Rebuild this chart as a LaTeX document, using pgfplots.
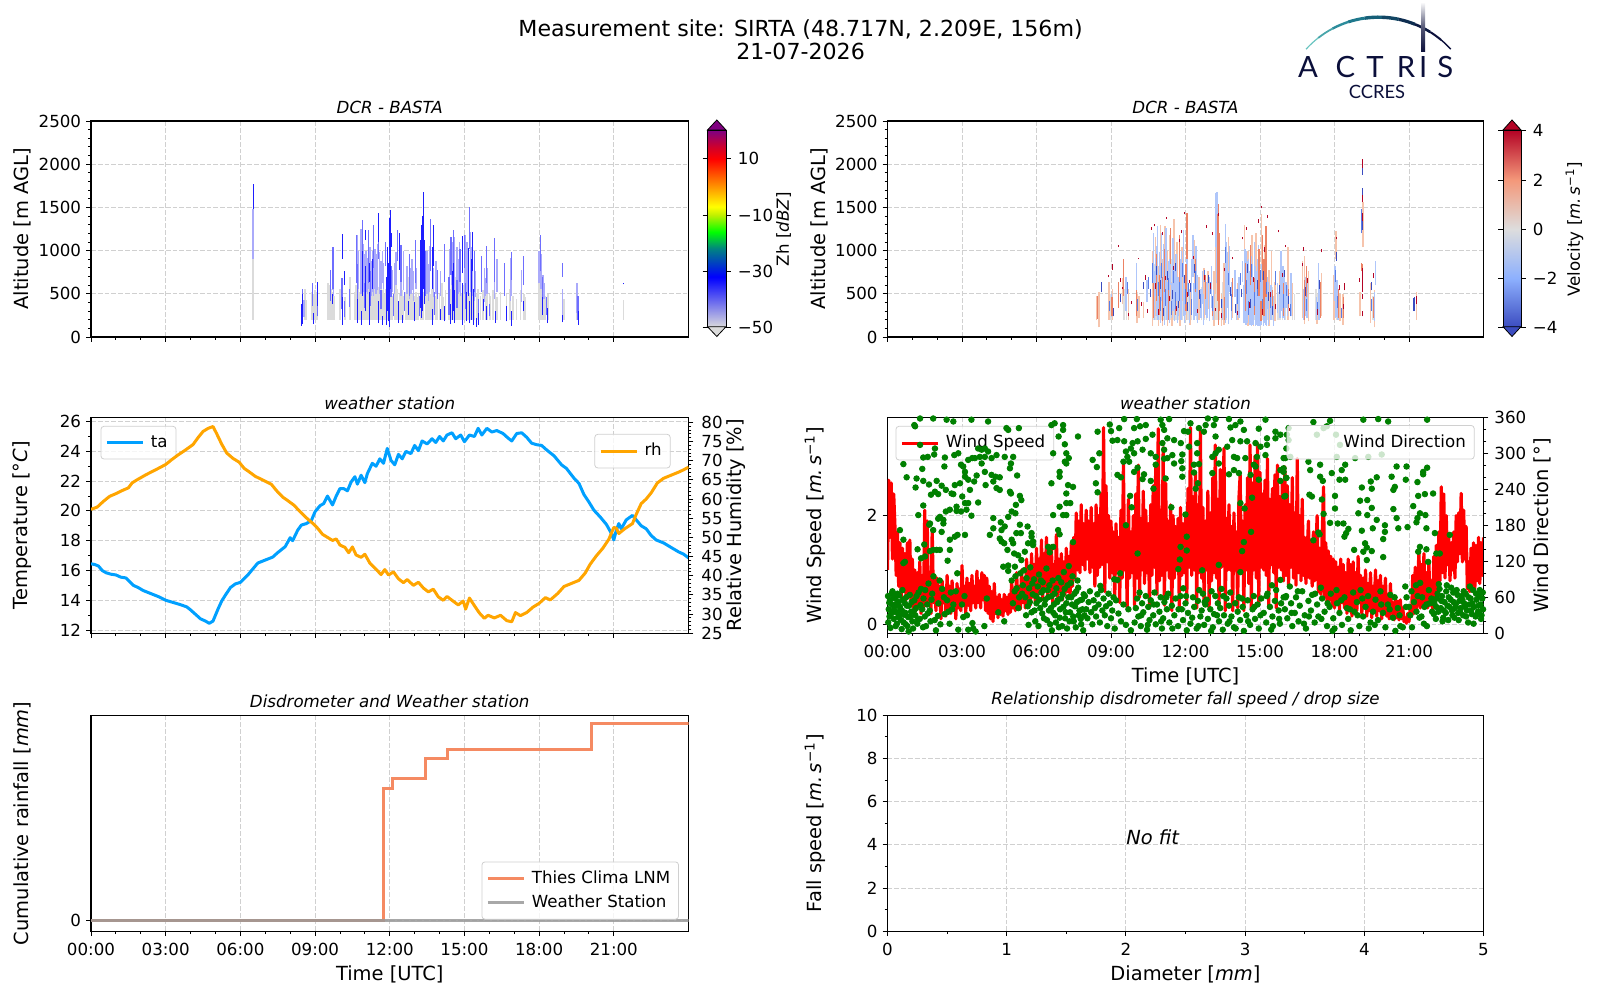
\documentclass[border=0pt]{standalone}
\usepackage{fontspec}
\setmainfont{DejaVu Sans}
\newfontfamily\logofont{Lato}
\usepackage{pgfplots}
\usepackage{pgfplotstable}
\pgfplotsset{compat=1.18}
\usetikzlibrary{shadings}

\newcommand{\ftick}{\fontsize{8.36}{10}\selectfont}
\newcommand{\flabel}{\fontsize{9.76}{11.5}\selectfont}
\newcommand{\ftitle}{\fontsize{8.36}{10}\selectfont\itshape}

\definecolor{gridc}{RGB}{208,208,208}
\definecolor{tacol}{RGB}{0,160,255}
\definecolor{rhcol}{RGB}{255,165,0}
\definecolor{thies}{RGB}{245,138,98}
\definecolor{wscol}{RGB}{153,153,153}
\definecolor{dirc}{RGB}{0,128,0}
\definecolor{navy}{RGB}{11,15,58}
\definecolor{zpale}{RGB}{170,170,250}
\definecolor{zmid}{RGB}{110,110,255}
\definecolor{zstrong}{RGB}{30,30,255}
\definecolor{zpurple}{RGB}{128,0,128}
\definecolor{vlorc}{RGB}{246,196,172}
\definecolor{vlbluec}{RGB}{175,198,250}
\definecolor{vorc}{RGB}{236,130,100}
\definecolor{vbluec}{RGB}{90,125,230}
\definecolor{vdarkc}{RGB}{59,76,192}
\definecolor{vredc}{RGB}{180,4,38}

% radar stripes, time (h), bottom and top altitude (m)
\pgfplotstableread[row sep=\\]{t lo hi\\
6.51 200 900\\ 8.60 200 560\\ 8.65 200 430\\ 8.85 200 520\\ 8.90 200 530\\ 8.95 200 500\\ 9.00 200 540\\ 9.05 200 520\\ 9.10 200 480\\
9.52 200 620\\ 9.58 200 600\\ 9.64 200 560\\ 9.70 200 520\\ 9.76 200 480\\ 10.00 200 560\\ 10.20 200 460\\ 10.40 200 700\\
10.60 200 520\\ 10.65 200 600\\ 10.70 200 480\\ 10.75 200 640\\ 10.80 200 520\\ 10.85 200 700\\ 10.90 200 560\\ 10.95 200 620\\ 11.00 200 500\\ 11.05 200 680\\
11.10 200 540\\ 11.15 200 600\\ 11.20 200 720\\ 11.25 200 500\\ 11.30 200 640\\ 11.35 200 560\\ 11.40 200 700\\ 11.45 200 520\\ 11.50 200 620\\ 11.55 200 580\\
11.60 200 500\\ 11.65 200 660\\ 11.70 200 540\\ 11.75 200 600\\ 11.80 200 500\\ 11.85 200 560\\ 11.90 200 620\\ 11.95 200 500\\ 12.00 200 540\\ 12.05 200 600\\
12.10 200 480\\ 12.20 200 520\\ 12.25 200 620\\ 12.30 200 560\\ 12.40 200 500\\ 12.45 200 600\\ 12.50 200 540\\ 12.55 200 480\\ 12.65 200 520\\ 12.70 200 600\\
12.75 200 700\\ 12.80 200 620\\ 12.85 200 560\\ 12.90 200 500\\ 12.95 200 540\\ 13.00 200 480\\ 13.05 200 520\\ 13.10 200 460\\ 13.15 200 500\\ 13.25 200 560\\
13.30 200 600\\ 13.35 200 520\\ 13.45 200 700\\ 13.50 200 640\\ 13.55 200 580\\ 13.60 200 620\\ 13.65 200 500\\ 13.70 200 560\\ 13.75 200 520\\ 13.85 200 480\\
13.90 200 560\\ 14.00 200 500\\ 14.10 200 620\\ 14.15 200 460\\ 14.25 200 540\\ 14.35 200 600\\ 14.40 200 680\\ 14.45 200 560\\ 14.50 200 720\\ 14.55 200 640\\
14.60 200 580\\ 14.65 200 700\\ 14.70 200 520\\ 14.75 200 620\\ 14.80 200 560\\ 14.85 200 660\\ 14.90 200 500\\ 14.95 200 600\\ 15.00 200 540\\ 15.05 200 580\\
15.10 200 520\\ 15.15 200 640\\ 15.20 200 500\\ 15.25 200 560\\ 15.30 200 600\\ 15.35 200 520\\ 15.40 200 480\\ 15.50 200 500\\ 15.55 200 560\\ 15.65 200 480\\
15.75 200 540\\ 15.85 200 520\\ 15.90 200 600\\ 16.00 200 500\\ 16.05 200 480\\ 16.15 200 540\\ 16.25 200 500\\ 16.30 200 460\\ 16.45 200 520\\ 16.70 200 500\\
16.80 200 560\\ 16.85 200 520\\ 16.95 200 480\\ 17.10 200 440\\ 17.25 200 540\\ 17.40 200 500\\ 17.45 200 460\\ 18.00 200 620\\ 18.05 200 580\\ 18.10 200 650\\
18.15 200 560\\ 18.20 200 520\\ 18.25 200 480\\ 18.35 200 500\\ 19.00 200 440\\ 19.50 200 620\\ 19.55 200 560\\ 21.38 200 430\\
}\zhgrey
\pgfplotstableread[row sep=\\]{t lo hi\\
6.51 900 1480\\ 8.55 230 430\\ 9.70 540 1000\\ 9.75 480 780\\ 10.70 480 1180\\ 10.75 560 1000\\ 10.85 500 1250\\ 10.95 520 1080\\ 11.00 480 960\\ 11.05 520 1000\\
11.10 500 920\\ 11.15 560 1000\\ 11.20 500 1040\\ 11.25 480 880\\ 11.30 520 1000\\ 11.35 480 1120\\ 11.40 560 1020\\ 11.45 500 960\\ 11.50 540 1080\\ 11.60 500 980\\
11.65 560 880\\ 11.70 620 1000\\ 11.75 560 860\\ 12.10 520 780\\ 12.20 500 860\\ 12.25 600 980\\ 12.45 480 860\\ 12.55 540 1000\\ 12.70 500 820\\ 12.80 440 900\\
12.85 500 800\\ 12.90 540 900\\ 12.95 420 760\\ 13.05 560 800\\ 13.50 500 1000\\ 13.55 420 840\\ 13.60 520 1050\\ 13.75 460 800\\ 13.85 500 880\\ 14.05 480 760\\
14.40 480 1020\\ 14.50 600 1100\\ 14.55 500 1000\\ 14.60 480 1160\\ 14.70 560 1040\\ 14.75 500 900\\ 14.80 520 1100\\ 14.85 480 1000\\ 15.00 500 900\\ 15.05 480 1180\\
15.10 500 1100\\ 15.25 520 1220\\ 15.30 480 1040\\ 15.40 420 860\\ 15.45 460 760\\ 15.80 400 800\\ 15.85 480 680\\ 15.90 500 800\\ 16.20 440 960\\ 16.30 520 900\\
16.85 420 920\\ 16.90 480 820\\ 17.30 400 780\\ 18.00 620 1000\\ 18.08 560 960\\ 18.15 500 720\\ 18.20 440 620\\ 18.30 260 420\\ 18.95 260 560\\ 19.52 280 620\\
}\zhpale
\pgfplotstableread[row sep=\\]{t lo hi\\
8.50 300 560\\ 8.90 360 620\\ 9.10 240 480\\ 9.62 420 780\\ 9.72 560 1040\\ 10.08 320 680\\ 10.18 230 420\\ 10.40 350 560\\ 10.65 620 1180\\ 10.72 380 840\\ 10.90 700 1350\\
10.98 340 620\\ 11.15 620 1240\\ 11.22 360 760\\ 11.35 800 1300\\ 11.55 900 1340\\ 11.65 320 540\\ 11.82 820 1100\\ 12.05 460 820\\ 12.15 240 500\\ 12.30 880 1240\\ 12.45 640 1060\\
12.60 300 520\\ 12.80 480 960\\ 13.02 620 1120\\ 13.18 240 480\\ 13.42 480 1000\\ 13.62 760 1360\\ 13.78 260 520\\ 13.92 440 780\\ 14.20 640 1080\\ 14.38 260 700\\ 14.46 720 1160\\
14.55 860 1240\\ 14.70 340 660\\ 14.82 640 1020\\ 15.00 800 1180\\ 15.05 320 620\\ 15.22 1020 1500\\ 15.40 520 1000\\ 15.55 240 440\\ 15.70 520 940\\ 15.88 620 1050\\ 16.00 240 380\\
16.22 640 1140\\ 16.62 480 860\\ 16.90 660 980\\ 17.36 600 940\\ 18.05 760 1180\\ 18.12 420 700\\ 18.28 260 460\\ 18.95 700 860\\ 19.56 200 480\\
}\zhmid
\pgfplotstableread[row sep=\\]{t lo hi\\
6.51 1480 1770\\ 8.46 130 380\\ 8.50 150 500\\ 8.92 150 280\\ 9.10 360 640\\ 9.68 380 500\\ 10.08 140 460\\ 10.09 900 1190\\ 10.20 600 760\\ 10.70 160 440\\ 10.88 140 300\\
10.92 480 1000\\ 11.02 300 820\\ 11.04 1120 1240\\ 11.18 140 520\\ 11.20 640 860\\ 11.30 560 900\\ 11.55 160 420\\ 11.56 1100 1440\\ 11.70 140 240\\ 11.86 140 700\\ 11.90 300 1040\\
11.94 180 860\\ 11.98 120 1380\\ 12.02 560 1470\\ 12.06 1040 1200\\ 12.35 160 420\\ 12.40 780 1200\\ 12.50 160 260\\ 12.75 260 420\\ 13.00 180 400\\ 13.24 340 1120\\ 13.28 220 1300\\
13.32 300 1400\\ 13.36 560 1680\\ 13.40 380 1120\\ 13.70 140 320\\ 13.72 560 1040\\ 13.76 820 1300\\ 14.04 200 320\\ 14.20 180 360\\ 14.44 150 380\\ 14.50 200 760\\ 14.54 300 860\\
14.60 160 540\\ 14.90 140 620\\ 14.92 740 1170\\ 15.10 180 520\\ 15.15 480 1030\\ 15.20 160 420\\ 15.28 200 900\\ 15.32 760 1220\\ 15.36 140 560\\ 15.50 120 220\\ 15.58 140 280\\
15.75 300 440\\ 15.90 200 360\\ 16.24 160 300\\ 16.67 180 360\\ 16.88 130 300\\ 17.37 300 420\\ 18.12 260 460\\ 18.32 160 340\\ 18.95 170 260\\ 19.56 140 300\\ 21.38 610 630\\
}\zhstrong
\pgfplotstableread[row sep=\\]{t lo hi\\
8.50 200 520\\ 8.90 200 540\\ 8.95 200 580\\ 9.00 200 500\\ 9.50 200 480\\ 9.55 200 560\\ 9.62 200 520\\ 10.05 200 520\\ 10.70 200 700\\ 10.75 200 840\\ 10.80 200 640\\ 10.85 200 900\\ 10.92 200 620\\
10.98 200 760\\ 11.05 200 680\\ 11.12 200 820\\ 11.20 200 640\\ 11.28 200 780\\ 11.35 200 680\\ 11.42 200 900\\ 11.50 200 640\\ 11.58 200 840\\ 11.65 200 700\\ 11.72 200 620\\ 11.80 200 820\\
11.88 200 700\\ 11.95 200 640\\ 12.02 200 780\\ 12.10 200 620\\ 12.18 200 540\\ 12.25 200 680\\ 12.35 200 560\\ 12.45 200 620\\ 12.55 200 500\\ 12.65 200 580\\ 12.75 200 500\\ 12.85 200 560\\
13.10 200 460\\ 13.20 200 560\\ 13.25 200 700\\ 13.30 200 580\\ 13.38 200 500\\ 13.50 200 640\\ 13.58 200 700\\ 13.65 200 600\\ 13.72 200 500\\ 13.85 200 480\\ 14.10 200 520\\ 14.35 200 560\\
14.40 200 760\\ 14.46 200 620\\ 14.52 200 860\\ 14.58 200 720\\ 14.65 200 900\\ 14.72 200 640\\ 14.80 200 780\\ 14.86 200 620\\ 14.92 200 720\\ 14.98 200 560\\ 15.05 200 660\\ 15.12 200 540\\
15.18 200 640\\ 15.25 200 700\\ 15.32 200 600\\ 15.40 200 520\\ 15.48 200 580\\ 15.55 200 480\\ 15.72 200 520\\ 15.80 200 560\\ 15.90 200 480\\ 16.00 200 520\\ 16.30 200 560\\ 16.38 200 500\\
16.75 200 500\\ 17.25 200 560\\ 17.30 200 500\\ 18.00 200 460\\ 18.10 200 560\\ 18.18 200 480\\ 18.25 200 420\\ 19.45 200 420\\ 19.55 200 480\\ 19.60 200 400\\
}\vgrey
\pgfplotstableread[row sep=\\]{t lo hi\\
9.02 230 500\\ 9.60 300 700\\ 10.03 520 860\\ 10.45 400 660\\ 10.72 560 1200\\ 10.80 480 920\\ 10.88 340 1280\\ 10.96 260 980\\ 11.04 420 1200\\ 11.12 320 1080\\ 11.22 540 1260\\ 11.32 240 880\\
11.40 600 1020\\ 11.50 300 1140\\ 11.62 420 960\\ 11.72 240 700\\ 11.85 500 1000\\ 11.92 240 1240\\ 12.00 260 760\\ 12.08 520 1340\\ 12.25 380 900\\ 12.30 700 1180\\ 12.42 240 1050\\
12.68 380 760\\ 12.80 260 660\\ 13.05 340 820\\ 13.22 1040 1670\\ 13.26 620 1680\\ 13.34 240 540\\ 13.50 200 440\\ 13.62 620 1310\\ 13.68 340 980\\ 13.78 520 1050\\ 14.00 460 780\\ 14.30 640 880\\
14.40 280 1020\\ 14.46 200 720\\ 14.54 380 900\\ 14.62 140 1000\\ 14.70 220 840\\ 14.78 520 1100\\ 14.85 140 760\\ 14.94 300 1060\\ 15.02 140 620\\ 15.10 400 980\\ 15.22 140 540\\ 15.30 320 700\\
15.48 320 540\\ 15.70 280 620\\ 15.85 300 1000\\ 15.92 220 820\\ 16.05 340 640\\ 16.25 240 740\\ 16.90 220 640\\ 17.28 200 460\\ 17.36 240 860\\ 18.02 420 820\\ 18.10 230 660\\ 19.60 180 520\\ 19.65 600 880\\
10.74 200 760\\ 10.84 240 1050\\ 10.90 200 620\\ 11.00 160 820\\ 11.08 220 700\\ 11.16 140 960\\ 11.26 200 640\\ 11.36 160 900\\ 11.44 220 620\\ 11.56 180 820\\ 11.68 160 700\\ 11.82 200 900\\ 11.96 160 680\\ 12.04 300 1100\\ 12.16 160 540\\ 12.34 200 620\\ 12.48 160 720\\ 12.62 220 560\\ 12.72 140 500\\ 12.86 220 640\\ 12.96 180 700\\ 13.12 200 540\\ 13.60 160 880\\ 13.66 220 1100\\ 13.74 150 760\\ 13.84 200 640\\ 14.06 200 560\\ 14.16 220 700\\ 14.36 160 600\\ 14.44 140 1000\\ 14.50 160 880\\ 14.58 140 760\\ 14.66 130 940\\ 14.72 140 640\\ 14.82 130 820\\ 14.88 140 680\\ 14.92 130 900\\ 15.00 130 720\\ 15.06 140 840\\ 15.14 130 620\\ 15.18 160 760\\ 15.26 130 560\\ 15.34 140 640\\ 15.44 200 600\\ 15.54 130 480\\ 15.80 220 560\\ 15.98 200 760\\ 16.10 240 600\\ 16.74 200 560\\ 16.82 240 700\\ 17.38 200 620\\ 18.04 220 600\\ 18.14 200 520\\
}\vlblue
\pgfplotstableread[row sep=\\]{t lo hi\\
8.95 300 420\\ 9.65 500 640\\ 10.08 300 440\\ 10.50 560 700\\ 10.66 620 860\\ 10.90 480 640\\ 11.00 300 460\\ 11.05 680 860\\ 11.18 360 560\\ 11.30 540 680\\ 11.44 260 420\\ 11.52 620 760\\ 11.60 320 520\\
11.76 420 640\\ 11.88 700 860\\ 12.00 380 560\\ 12.12 480 620\\ 12.25 260 440\\ 12.42 560 760\\ 12.60 340 500\\ 12.78 640 780\\ 13.00 500 640\\ 13.10 300 480\\ 13.62 860 1040\\ 13.72 600 740\\ 13.86 300 500\\
14.08 380 560\\ 14.20 600 740\\ 14.45 500 660\\ 14.55 260 420\\ 14.66 700 840\\ 14.76 360 520\\ 14.90 480 640\\ 15.00 640 780\\ 15.12 280 440\\ 15.28 500 640\\ 15.42 340 480\\ 15.62 600 760\\ 15.95 340 500\\
16.08 480 600\\ 16.22 240 380\\ 16.86 300 440\\ 17.32 260 400\\ 18.05 640 780\\ 18.12 340 480\\ 18.30 220 340\\ 19.50 300 440\\ 19.10 1200 1480\\
}\vblue
\pgfplotstableread[row sep=\\]{t lo hi\\
8.62 520 640\\ 9.10 240 340\\ 9.40 400 500\\ 10.32 560 640\\ 10.60 460 560\\ 10.84 720 820\\ 10.98 560 660\\ 11.10 240 340\\ 11.26 660 760\\ 11.46 440 540\\ 11.58 760 860\\ 11.70 340 420\\ 11.95 620 720\\
12.06 300 400\\ 12.20 520 620\\ 12.38 740 840\\ 12.55 440 540\\ 12.92 620 720\\ 13.46 340 440\\ 13.80 480 580\\ 14.02 280 380\\ 14.24 460 560\\ 14.48 740 840\\ 14.60 340 440\\ 14.88 560 660\\ 15.16 660 760\\
15.34 420 520\\ 15.52 260 360\\ 15.78 500 600\\ 16.00 700 780\\ 16.15 380 480\\ 16.84 480 580\\ 17.40 560 660\\ 18.08 880 980\\ 19.14 1880 1960\\ 19.14 1640 1720\\ 19.14 1240 1340\\ 19.50 540 640\\ 21.20 300 450\\ 21.24 300 460\\
}\vdark
\pgfplotstableread[row sep=\\]{t lo hi\\
8.42 200 480\\ 8.52 110 520\\ 8.92 200 640\\ 9.06 200 560\\ 9.46 380 680\\ 9.70 200 560\\ 10.05 160 500\\ 10.12 220 480\\ 10.30 220 400\\ 10.68 130 1000\\ 10.78 240 1160\\ 10.92 130 820\\ 10.99 320 1300\\
11.08 130 900\\ 11.18 640 1280\\ 11.28 130 1000\\ 11.38 420 1180\\ 11.46 130 640\\ 11.54 760 1360\\ 11.66 300 1100\\ 11.78 130 820\\ 11.86 420 1040\\ 12.05 200 1300\\ 12.18 140 560\\ 12.36 500 1120\\ 12.54 200 700\\
12.74 220 800\\ 12.90 320 760\\ 13.14 130 760\\ 13.20 500 1320\\ 13.44 130 500\\ 13.55 140 860\\ 13.72 240 1160\\ 13.90 220 560\\ 14.12 200 620\\ 14.38 260 1300\\ 14.52 130 1000\\ 14.68 300 1180\\ 14.74 130 620\\
14.84 500 1200\\ 14.98 130 880\\ 15.05 620 1420\\ 15.20 200 1060\\ 15.36 130 780\\ 15.46 420 1000\\ 15.60 180 640\\ 15.78 240 760\\ 16.12 200 1040\\ 16.28 240 620\\ 16.72 220 880\\ 16.78 150 940\\ 16.95 180 760\\
17.30 150 360\\ 17.48 240 740\\ 17.98 200 720\\ 18.06 900 1230\\ 18.22 180 500\\ 18.34 140 500\\ 19.02 240 520\\ 19.14 1040 1560\\ 19.46 160 620\\ 19.62 110 540\\ 21.30 200 520\\
}\vlor
\pgfplotstableread[row sep=\\]{t lo hi\\
8.46 210 480\\ 9.04 240 460\\ 9.30 340 640\\ 9.50 480 900\\ 10.04 240 540\\ 10.72 220 620\\ 10.84 420 960\\ 10.94 260 720\\ 11.06 180 700\\ 11.14 520 1020\\ 11.30 200 620\\ 11.38 840 1260\\ 11.60 260 520\\
11.76 640 1180\\ 12.02 300 840\\ 12.06 900 1430\\ 12.40 520 900\\ 12.80 440 720\\ 13.08 240 460\\ 13.30 420 1420\\ 13.32 140 1540\\ 13.36 300 1200\\ 13.58 200 460\\ 13.88 460 680\\ 14.42 300 860\\ 14.60 600 1060\\
14.78 260 680\\ 14.96 480 1020\\ 15.04 180 420\\ 15.10 660 1180\\ 15.16 240 900\\ 15.24 460 1280\\ 15.52 360 540\\ 15.94 240 620\\ 16.14 340 560\\ 16.80 200 660\\ 16.86 460 820\\ 17.42 220 640\\ 18.16 220 560\\ 18.36 220 460\\
19.14 560 840\\ 19.58 220 460\\ 19.10 760 860\\
}\vor
\pgfplotstableread[row sep=\\]{t lo hi\\
8.88 690 720\\ 9.04 780 840\\ 9.32 1040 1060\\ 9.40 640 680\\ 9.48 560 580\\ 9.72 240 280\\ 9.84 380 420\\ 10.10 900 920\\ 10.24 360 400\\ 10.40 660 720\\ 10.46 280 320\\ 10.62 1240 1270\\ 10.74 1280 1310\\ 10.80 560 620\\
10.92 260 320\\ 11.06 1180 1210\\ 11.18 660 710\\ 11.24 1370 1390\\ 11.36 420 480\\ 11.50 780 820\\ 11.64 300 360\\ 11.74 1100 1130\\ 11.82 1200 1240\\ 11.96 1420 1450\\ 12.06 460 520\\ 12.18 620 660\\ 12.32 900 940\\ 12.50 280 320\\
12.76 660 720\\ 12.84 1260 1300\\ 13.02 560 620\\ 13.10 1180 1210\\ 13.22 300 340\\ 13.34 1400 1440\\ 13.46 220 280\\ 13.58 760 800\\ 13.90 900 930\\ 14.10 260 300\\ 14.30 1130 1160\\ 14.44 1240 1270\\ 14.58 340 400\\ 14.72 640 700\\
14.92 1320 1360\\ 15.04 1490 1520\\ 15.12 260 320\\ 15.20 980 1040\\ 15.30 1380 1410\\ 15.44 460 520\\ 15.62 320 380\\ 15.74 1210 1240\\ 15.90 700 740\\ 16.04 1040 1070\\ 16.20 300 340\\ 16.70 820 860\\ 16.76 1000 1040\\ 16.92 620 680\\
17.32 260 320\\ 17.46 980 1020\\ 18.10 1130 1160\\ 18.22 540 600\\ 18.38 320 380\\ 18.42 540 620\\ 19.00 640 680\\ 19.14 240 300\\ 19.14 440 500\\ 19.14 520 800\\ 19.14 1560 1640\\ 19.14 1340 1440\\ 19.14 1960 2060\\ 19.58 680 740\\ 21.30 380 480\\
}\vred

\pgfplotstableread[row sep=\\]{t v\\
0 16.45\\ .15 16.4\\ .3 16.3\\ .45 16\\ .6 15.85\\ .8 15.75\\ 1 15.7\\ 1.2 15.55\\ 1.4 15.5\\ 1.55 15.25\\ 1.7 15\\ 1.9 14.85\\ 2.1 14.65\\ 2.4 14.45\\ 2.7 14.25\\ 3 14\\ 3.3 13.85\\ 3.6 13.7\\ 3.85 13.55\\ 4 13.35\\ 4.2 13.05\\ 4.4 12.75\\ 4.6 12.6\\ 4.75 12.45\\ 4.9 12.6\\ 5 13\\ 5.1 13.4\\ 5.25 13.95\\ 5.4 14.35\\ 5.6 14.85\\ 5.8 15.1\\ 6 15.2\\ 6.3 15.7\\ 6.5 16.1\\ 6.7 16.5\\ 7 16.7\\ 7.3 16.9\\ 7.5 17.2\\ 7.8 17.6\\ 8 18.2\\ 8.1 18\\ 8.3 18.7\\ 8.45 19.05\\ 8.65 19.15\\ 8.85 19.35\\ 9 19.95\\ 9.2 20.35\\ 9.35 20.5\\ 9.5 21\\ 9.7 20.4\\ 9.85 21\\ 10 21.5\\ 10.15 21.5\\ 10.3 21.35\\ 10.45 21.95\\ 10.6 22.3\\ 10.7 21.8\\ 10.85 22.4\\ 11 21.9\\ 11.1 22.5\\ 11.3 23.2\\ 11.45 23\\ 11.6 23.5\\ 11.75 23.2\\ 11.9 24.2\\ 12.05 23.4\\ 12.2 23.1\\ 12.35 23.8\\ 12.5 23.5\\ 12.65 24\\ 12.85 23.85\\ 13 24.4\\ 13.15 24.05\\ 13.3 24.7\\ 13.5 24.5\\ 13.7 24.85\\ 13.85 24.6\\ 14 25\\ 14.15 24.7\\ 14.3 25.1\\ 14.5 25.25\\ 14.65 24.85\\ 14.85 25.1\\ 15 24.65\\ 15.2 25.1\\ 15.4 25\\ 15.55 25.55\\ 15.7 25.1\\ 15.9 25.55\\ 16.1 25.3\\ 16.3 25.4\\ 16.55 25.2\\ 16.75 24.9\\ 16.9 24.7\\ 17.1 25.2\\ 17.3 25.25\\ 17.5 24.95\\ 17.7 24.55\\ 17.9 24.45\\ 18.1 24.4\\ 18.3 24.1\\ 18.6 23.7\\ 18.9 23.1\\ 19.1 22.85\\ 19.4 22.2\\ 19.6 21.85\\ 19.8 21.1\\ 20 20.6\\ 20.2 20.05\\ 20.45 19.6\\ 20.7 19.1\\ 20.9 18.5\\ 21 18.05\\ 21.1 18.7\\ 21.2 19.15\\ 21.3 18.8\\ 21.5 19.4\\ 21.75 19.7\\ 21.95 19.3\\ 22.1 19\\ 22.3 18.8\\ 22.5 18.35\\ 22.7 18.05\\ 23 17.85\\ 23.3 17.55\\ 23.6 17.25\\ 23.8 17.1\\ 24 16.85\\
}\tadata
\pgfplotstableread[row sep=\\]{t v\\
0 57.3\\ .25 57.9\\ .5 59.4\\ .75 60.7\\ 1 61.4\\ 1.25 62.2\\ 1.5 62.9\\ 1.65 64.2\\ 1.85 65\\ 2.2 66.3\\ 2.5 67.3\\ 2.8 68.3\\ 3 69\\ 3.25 70.3\\ 3.5 71.5\\ 3.8 72.8\\ 4.1 74.2\\ 4.3 76\\ 4.5 77.6\\ 4.7 78.4\\ 4.9 78.9\\ 5.05 77\\ 5.25 74.3\\ 5.45 72\\ 5.7 70.6\\ 5.95 69.6\\ 6.15 68\\ 6.35 67.1\\ 6.6 65.9\\ 6.95 64.8\\ 7.25 63.8\\ 7.45 62.2\\ 7.7 60.5\\ 7.9 59.6\\ 8.15 58.4\\ 8.4 56.7\\ 8.65 55.1\\ 8.9 53.7\\ 9.1 52.4\\ 9.3 50.8\\ 9.5 50\\ 9.7 49.2\\ 9.85 49.6\\ 10 48\\ 10.2 47.4\\ 10.35 46\\ 10.5 47.5\\ 10.65 45.4\\ 10.85 44.8\\ 11 45.6\\ 11.2 43.3\\ 11.45 41.7\\ 11.65 40.3\\ 11.8 41.6\\ 11.95 40.2\\ 12.15 41\\ 12.35 39.2\\ 12.55 38.2\\ 12.7 39\\ 12.95 37.5\\ 13.15 38.3\\ 13.35 36.8\\ 13.55 35.8\\ 13.75 36.5\\ 13.95 34.5\\ 14.15 33.6\\ 14.3 34.6\\ 14.5 33.6\\ 14.75 32.4\\ 14.95 33.4\\ 15.05 31.3\\ 15.2 34.2\\ 15.4 32.2\\ 15.6 30.3\\ 15.8 28.9\\ 15.95 29.7\\ 16.2 29\\ 16.45 29.7\\ 16.7 28.3\\ 16.9 28\\ 17.05 30.4\\ 17.25 29.6\\ 17.5 30.4\\ 17.75 31.8\\ 18 32.8\\ 18.25 34.3\\ 18.45 33.7\\ 18.75 35.4\\ 19 37.2\\ 19.3 38\\ 19.6 38.8\\ 19.85 40.7\\ 20.05 43\\ 20.3 45.2\\ 20.55 47.1\\ 20.8 49.5\\ 21 52.6\\ 21.1 52.4\\ 21.2 51\\ 21.45 52.3\\ 21.75 53.6\\ 21.9 56\\ 22.1 58.8\\ 22.3 60\\ 22.5 61.6\\ 22.75 64.2\\ 23 65.4\\ 23.3 66.2\\ 23.6 67\\ 23.8 67.6\\ 24 68.3\\
}\rhdata

% wind speed
\pgfplotstableread[row sep=\\]{t v\\
0 1 \\ .05 2.65\\ .1 1.6\\ .15 2.6\\ .2 1.2\\ .25 2.4\\ .3 1.8\\ .35 .9\\ .4 1.7\\ .45 .7\\ .5 1.5\\ .55 .5\\ .6 1.4\\ .65 .6\\ .7 1.3\\ .75 .45\\ .8 1.5\\ .85 .5\\ .9 1.55\\ .95 .35\\ 1 1.2\\ 1.05 .3\\ 1.1 1\\ 1.15 .25\\ 1.2 .95\\ 1.25 .4\\ 1.3 1.15\\ 1.35 .2\\ 1.4 .9\\ 1.45 .3\\ 1.5 2.1\\ 1.55 .4\\ 1.6 1.9\\ 1.65 .35\\ 1.7 .8\\ 1.75 .2\\ 1.8 1.75\\ 1.85 .4\\ 1.9 .9\\ 1.95 .25\\
2 .85\\ 2.05 .35\\ 2.1 .7\\ 2.15 .1\\ 2.2 .8\\ 2.25 .4\\ 2.3 .65\\ 2.35 .15\\ 2.4 .9\\ 2.45 .3\\ 2.5 .7\\ 2.55 .2\\ 2.6 .8\\ 2.65 .35\\ 2.7 .6\\ 2.75 .1\\ 2.8 .75\\ 2.85 .3\\ 2.9 .65\\ 2.95 .25\\ 3 1.08\\ 3.05 .4\\ 3.1 .7\\ 3.15 .2\\ 3.2 .85\\ 3.25 .35\\ 3.3 .75\\ 3.35 .25\\ 3.4 .9\\ 3.45 .4\\ 3.5 .7\\ 3.55 .3\\ 3.6 .98\\ 3.65 .4\\ 3.7 .8\\ 3.75 .3\\ 3.8 .95\\ 3.85 .45\\ 3.9 .9\\ 3.95 .25\\
4 .85\\ 4.05 .2\\ 4.1 .7\\ 4.15 .1\\ 4.2 .6\\ 4.25 .05\\ 4.3 .75\\ 4.35 .2\\ 4.4 .5\\ 4.45 .12\\ 4.5 .55\\ 4.55 .18\\ 4.6 .45\\ 4.65 .15\\ 4.7 .55\\ 4.75 .25\\ 4.8 .5\\ 4.85 .18\\ 4.9 .55\\ 4.95 .22\\ 5 .8\\ 5.05 .3\\ 5.1 .65\\ 5.15 .25\\ 5.2 .95\\ 5.25 .35\\ 5.3 .7\\ 5.35 .28\\ 5.4 1\\ 5.45 .4\\ 5.5 .85\\ 5.55 .3\\ 5.6 1.2\\ 5.65 .45\\ 5.7 1.05\\ 5.75 .35\\ 5.8 1.3\\ 5.85 .5\\ 5.9 1.1\\ 5.95 .4\\
6 1.4\\ 6.05 .5\\ 6.1 1.2\\ 6.15 .6\\ 6.2 1.55\\ 6.25 .45\\ 6.3 1.3\\ 6.35 .7\\ 6.4 1.6\\ 6.45 .5\\ 6.5 1.25\\ 6.55 .6\\ 6.6 1.45\\ 6.65 .4\\ 6.7 1.1\\ 6.75 .55\\ 6.8 1.65\\ 6.85 .5\\ 6.9 1.2\\ 6.95 .6\\ 7 1.3\\ 7.05 .45\\ 7.1 1.15\\ 7.15 .55\\ 7.2 1.4\\ 7.25 .6\\ 7.3 1.25\\ 7.35 .5\\ 7.4 1.5\\ 7.45 .7\\ 7.5 1.6\\ 7.55 .85\\ 7.6 2.05\\ 7.65 1\\ 7.7 1.9\\ 7.75 .95\\ 7.8 2.2\\ 7.85 1.1\\ 7.9 1.85\\ 7.95 1\\
8 2.1\\ 8.05 1.2\\ 8.1 1.9\\ 8.15 .95\\ 8.2 2.15\\ 8.25 1.05\\ 8.3 1.85\\ 8.35 .7\\ 8.4 2.2\\ 8.45 .9\\ 8.5 2\\ 8.55 1.05\\ 8.6 2.4\\ 8.65 1.1\\ 8.7 3.62\\ 8.75 .6\\ 8.8 2.55\\ 8.85 1.15\\ 8.9 2\\ 8.95 .85\\ 9 1.9\\ 9.05 .95\\ 9.1 1.7\\ 9.15 .45\\ 9.2 1.85\\ 9.25 1\\ 9.3 1.6\\ 9.35 .4\\ 9.4 2.1\\ 9.45 .85\\ 9.5 2.95\\ 9.55 1\\ 9.6 1.75\\ 9.65 .3\\ 9.7 2.3\\ 9.75 .85\\ 9.8 1.7\\ 9.85 .95\\ 9.9 2\\ 9.95 .35\\
10 2.4\\ 10.05 .85\\ 10.1 2.93\\ 10.15 .5\\ 10.2 1.95\\ 10.25 1\\ 10.3 2.45\\ 10.35 .75\\ 10.4 2.1\\ 10.45 .95\\ 10.5 1.85\\ 10.55 .3\\ 10.6 2.2\\ 10.65 .9\\ 10.7 2.55\\ 10.75 1.05\\ 10.8 2.9\\ 10.85 .55\\ 10.9 3.6\\ 10.95 .8\\ 11 2.1\\ 11.05 .9\\ 11.1 3.25\\ 11.15 .35\\ 11.2 2.6\\ 11.25 1\\ 11.3 1.9\\ 11.35 .85\\ 11.4 2.2\\ 11.45 .25\\ 11.5 2\\ 11.55 .85\\ 11.6 1.8\\ 11.65 1\\ 11.7 1.95\\ 11.75 .3\\ 11.8 2.15\\ 11.85 .9\\ 11.9 1.85\\ 11.95 .95\\
12 2\\ 12.05 .4\\ 12.1 2.5\\ 12.15 1.05\\ 12.2 3.62\\ 12.25 .9\\ 12.3 2.35\\ 12.35 1\\ 12.4 2.8\\ 12.45 .3\\ 12.5 2.2\\ 12.55 .95\\ 12.6 3.55\\ 12.65 .85\\ 12.7 2.15\\ 12.75 .35\\ 12.8 1.9\\ 12.85 1\\ 12.9 2.45\\ 12.95 .3\\ 13 2.05\\ 13.05 .8\\ 13.1 2.7\\ 13.15 .95\\ 13.2 3.3\\ 13.25 .85\\ 13.3 2.3\\ 13.35 .3\\ 13.4 2.85\\ 13.45 1.05\\ 13.5 2.1\\ 13.55 3.24\\ 13.6 .25\\ 13.65 1.95\\ 13.7 1\\ 13.75 2.2\\ 13.8 1\\ 13.85 1.8\\ 13.9 .25\\ 13.95 2.05\\
14 1\\ 14.05 1.7\\ 14.1 .3\\ 14.15 2.3\\ 14.2 2.75\\ 14.25 .95\\ 14.3 1.9\\ 14.35 .25\\ 14.4 2.2\\ 14.45 1\\ 14.5 2.7\\ 14.55 .75\\ 14.6 3.3\\ 14.65 .3\\ 14.7 2.6\\ 14.75 1\\ 14.8 3.1\\ 14.85 .85\\ 14.9 3.33\\ 14.95 .35\\ 15 2.8\\ 15.05 1.05\\ 15.1 2.4\\ 15.15 1\\ 15.2 2.65\\ 15.25 .9\\ 15.3 3.05\\ 15.35 .3\\ 15.4 2.3\\ 15.45 1.1\\ 15.5 2.5\\ 15.55 .95\\ 15.6 2.75\\ 15.65 .3\\ 15.7 2.93\\ 15.75 1.05\\ 15.8 2.35\\ 15.85 1\\ 15.9 2.6\\ 15.95 .8\\
16 2.9\\ 16.05 .9\\ 16.1 2.55\\ 16.15 .72\\ 16.2 2.2\\ 16.25 1.05\\ 16.3 2.7\\ 16.35 .85\\ 16.4 2.05\\ 16.45 .72\\ 16.5 3.05\\ 16.55 .95\\ 16.6 2\\ 16.65 .8\\ 16.7 2.3\\ 16.75 .9\\ 16.8 1.6\\ 16.85 .75\\ 16.95 1.9\\ 17 .85\\ 17.05 1.55\\ 17.1 .7\\ 17.15 1.7\\ 17.2 .8\\ 17.3 2\\ 17.35 .6\\ 17.4 1.4\\ 17.45 .55\\ 17.5 1.6\\ 17.56 2.53\\ 17.6 .5\\ 17.65 1.5\\ 17.7 .4\\ 17.75 1.35\\ 17.8 .45\\ 17.85 1.25\\ 17.9 .35\\ 17.95 1.2\\
18 .3\\ 18.05 1.15\\ 18.1 .45\\ 18.15 1.05\\ 18.2 .25\\ 18.25 1.2\\ 18.3 .4\\ 18.35 1.1\\ 18.4 .3\\ 18.45 .95\\ 18.5 .2\\ 18.55 1.2\\ 18.6 .35\\ 18.65 1.1\\ 18.7 .15\\ 18.75 1.15\\ 18.8 .3\\ 18.85 .95\\ 18.9 .25\\ 18.95 1.25\\ 19 .4\\ 19.05 .9\\ 19.1 .2\\ 19.15 .85\\ 19.2 .3\\ 19.25 1\\ 19.3 .15\\ 19.35 .75\\ 19.4 .25\\ 19.45 .95\\ 19.5 .12\\ 19.55 .7\\ 19.6 .3\\ 19.65 1\\ 19.7 .15\\ 19.75 .8\\ 19.8 .25\\ 19.85 .9\\ 19.9 .1\\ 19.95 .7\\
20 .2\\ 20.05 .85\\ 20.1 .15\\ 20.15 .55\\ 20.2 .1\\ 20.25 .75\\ 20.3 .2\\ 20.35 .4\\ 20.4 .08\\ 20.45 .5\\ 20.5 .12\\ 20.55 .42\\ 20.6 .08\\ 20.65 .45\\ 20.7 .1\\ 20.75 .3\\ 20.8 .05\\ 20.85 .12\\ 20.9 .02\\ 20.95 .2\\ 21 .05\\ 21.05 .3\\ 21.1 .15\\ 21.15 .9\\ 21.2 .2\\ 21.25 1.05\\ 21.3 .25\\ 21.35 .75\\ 21.4 1.34\\ 21.45 .3\\ 21.5 1.1\\ 21.55 .35\\ 21.6 1.3\\ 21.65 .4\\ 21.7 .95\\ 21.75 .3\\ 21.8 1.15\\ 21.85 .35\\ 21.9 .8\\ 21.95 .25\\
22 1.25\\ 22.05 .45\\ 22.1 1.45\\ 22.15 .5\\ 22.2 1.7\\ 22.25 .8\\ 22.3 2.53\\ 22.35 .95\\ 22.4 2.4\\ 22.45 .85\\ 22.5 2\\ 22.55 1.1\\ 22.6 1.6\\ 22.65 .8\\ 22.7 1.5\\ 22.75 1\\ 22.8 1.7\\ 22.85 .85\\ 22.9 2\\ 22.95 1.15\\ 23 2.05\\ 23.05 1.3\\ 23.1 2.41\\ 23.15 1.15\\ 23.2 2.1\\ 23.25 1.2\\ 23.3 1.8\\ 23.35 .65\\ 23.4 1.15\\ 23.45 .6\\ 23.5 1.4\\ 23.55 .7\\ 23.6 1.5\\ 23.65 .65\\ 23.7 1.45\\ 23.75 .8\\ 23.8 1.6\\ 23.85 .75\\ 23.9 1.5\\ 23.95 .9\\ 24 1.6\\
}\winddata

% wind direction
\pgfplotstableread[row sep=\\]{t d\\
1.31 358\\ 1.08 347\\ 1.11 345\\ 1.84 358\\ 2.38 356\\ 2.65 353\\ 3.38 356\\ 4.05 353\\ 4.79 342\\ 4.86 339\\ 5.29 342\\ 6.6 347\\ 6.73 350\\ 7.07 347\\ 7.07 339\\ 7.67 328\\ 6.89 328\\ 1.31 314\\ 1.91 308\\ 1.88 298\\ 1.44 293\\ 1.62 294\\ 2.31 293\\ 2.69 297\\ 2.85 300\\ .64 282\\ 2.29 278\\ 2.96 281\\ 3.05 278\\ 3.12 269\\ 1.4 274\\ .77 260\\ 1.17 258\\ 1.13 243\\ 1.44 254\\ 1.67 248\\ 1.98 254\\ 1.75 231\\ 1.91 236\\ 2.04 232\\ 2.18 246\\ 2.35 239\\ 2.58 233\\ 2.71 247\\ 2.65 232\\ 2.92 250\\ 3.01 228\\ 3.25 256\\ 3.12 261\\ 3.41 292\\ 3.25 289\\ 3.52 292\\ 3.65 308\\ 3.79 306\\ 3.92 308\\ 4.05 303\\ 3.72 294\\ 3.92 294\\ 3.79 283\\ 4.19 292\\ 4.39 297\\ 4.72 294\\ 5.06 294\\ 4.97 283\\ 4.93 275\\ 5.22 263\\ 3.92 269\\ 3.59 263\\ 3.49 253\\ 4.19 264\\ 4.35 261\\ 4.52 260\\ 4.26 253\\ 3.95 247\\ 3.32 239\\ 4.39 242\\ 4.52 239\\ 4.93 236\\ 4.97 233\\ 5.33 229\\ 5.17 214\\ 5.39 222\\ 5 203\\ 5.15 200\\ 4.86 194\\ 4.26 192\\ 4.56 185\\ 4.72 178\\ 4.59 172\\ 4.26 175\\ 4.12 164\\ 5.33 181\\ 5.64 178\\ 5.19 167\\ 5.37 167\\ 5.8 167\\ 5.8 161\\ 4.52 158\\ 4.59 153\\ 4.7 150\\ 5 156\\ 5.06 150\\ 4.83 139\\ 5.1 133\\ 5.26 130\\ 5.66 150\\ 5.86 147\\ 5.53 136\\ 3.12 164\\ 2.71 161\\ 2.51 156\\ 2.82 164\\ 2.51 139\\ 1.71 183\\ 1.68 181\\ 1.84 172\\ 2.18 169\\ 2.11 194\\ 2.04 191\\ 2.25 189\\ 2.25 183\\ 2.35 203\\ 2.51 206\\ 2.78 211\\ 2.78 204\\ 2.96 203\\ 3.38 196\\ 3.65 218\\ 3.25 217\\ 3.12 217\\ 3.18 206\\ 1.44 213\\ 1.24 197\\ .5 172\\ .64 156\\ 1.48 148\\ 1.21 140\\ 1.71 137\\ 1.84 139\\ 1.98 139\\ 2.11 139\\ 1.35 125\\ 1.51 128\\ 2.42 121\\ .7 119\\ .64 117\\ 4.66 111\\ 4.86 113\\ 4.86 104\\ 5.13 111\\ 5.39 122\\ 2.81 100\\ 6.6 250\\ 7.27 247\\ 7.47 244\\ 7.2 233\\ 6.93 261\\ 6.93 269\\ 7.2 283\\ 7.14 286\\ 7.3 292\\ 7.2 300\\ 7.14 315\\ 6.67 300\\ 6.93 211\\ 7.2 217\\ 7.36 217\\ 7.07 197\\ 7.2 197\\ 6.67 197\\ 6.87 172\\ 6.93 165\\ 6.47 144\\ 6.67 144\\ 6.53 135\\ 7.47 152\\ 5.86 153\\
.02 62\\ .05 40\\ .08 28\\ .1 55\\ .15 33\\ .18 48\\ .2 70\\ .25 24\\ .28 43\\ .3 58\\ .35 35\\ .38 16\\ .4 66\\ .45 52\\ .48 30\\ .5 44\\ .55 22\\ .58 38\\ .6 72\\ .65 18\\ .7 50\\ .72 34\\ .75 60\\ .8 12\\ .83 27\\ .87 46\\ .9 64\\ .95 36\\ 1 20\\ 1.03 8\\ 1.08 55\\ 1.12 30\\ 1.15 42\\ 1.2 16\\ 1.25 68\\ 1.3 24\\ 1.35 74\\ 1.4 40\\ 1.45 58\\ 1.5 28\\ 1.55 12\\ 1.6 48\\ 1.65 83\\ 1.7 38\\ 1.8 66\\ 1.85 95\\ 1.9 22\\ 1.95 5\\ 2.05 50\\ 2.1 88\\ 2.2 74\\ 2.3 32\\ 2.4 55\\ 2.5 16\\ 2.6 40\\ 2.65 48\\ 2.75 70\\ 2.85 6\\ 3 48\\ 3.05 27\\ 3.1 62\\ 3.2 30\\ 3.42 17\\ 3.45 8\\ 3.55 3\\ 4 58\\ 4.46 35\\ 4.7 20\\
5 88\\ 5.05 50\\ 5.15 95\\ 5.2 75\\ 5.3 60\\ 5.35 100\\ 5.45 80\\ 5.5 105\\ 5.55 60\\ 5.6 92\\ 5.65 45\\ 5.7 75\\ 5.75 110\\ 5.8 35\\ 5.85 65\\ 5.9 90\\ 5.95 20\\ 6 50\\ 6.05 78\\ 6.1 98\\ 6.15 42\\ 6.2 68\\ 6.25 85\\ 6.3 25\\ 6.35 56\\ 6.4 108\\ 6.45 72\\ 6.5 38\\ 6.55 15\\ 6.6 62\\ 6.65 88\\ 6.7 48\\ 6.75 30\\ 6.8 75\\ 6.85 55\\ 6.9 10\\ 6.95 40\\ 7 85\\ 7.05 65\\ 7.1 102\\ 7.15 25\\ 7.2 50\\ 7.25 80\\ 7.3 112\\ 7.35 35\\ 7.4 60\\ 7.45 95\\ 7.5 20\\ 7.55 45\\ 7.6 70\\ 7.65 88\\ 7.7 30\\ 7.75 55\\ 7.8 15\\ 7.85 40\\ 7.9 65\\
8.95 348\\ 9.53 357\\ 10.04 357\\ 11 356\\ 11.34 357\\ 12.2 350\\ 12.9 358\\ 13.21 357\\ 13.75 357\\ 14.21 353\\ 15.22 356\\ 8.46 336\\ 9 337\\ 9.33 342\\ 9.93 342\\ 10.17 345\\ 10.4 347\\ 11.07 347\\ 11.14 339\\ 11.94 337\\ 12.1 336\\ 12.54 342\\ 12.81 347\\ 13.14 347\\ 13.81 343\\ 14.01 347\\ 14.35 339\\ 14.95 341\\ 15.62 336\\ 15.28 325\\ 9.06 321\\ 9.26 322\\ 9.53 320\\ 9.87 317\\ 10.07 320\\ 10.4 324\\ 10.67 331\\ 11.07 317\\ 11.27 325\\ 11.54 322\\ 11.81 317\\ 12.14 311\\ 12.47 317\\ 12.74 336\\ 13.21 328\\ 13.34 306\\ 13.68 311\\ 13.88 322\\ 14.21 320\\ 14.48 320\\ 14.82 317\\ 15.02 311\\ 15.28 314\\ 15.62 325\\ 15.82 331\\ 9.6 303\\ 9.66 294\\ 9.8 308\\ 9.93 300\\ 10.27 306\\ 10.6 300\\ 10.8 294\\ 11.14 306\\ 11.27 292\\ 11.47 297\\ 11.87 298\\ 12.47 300\\ 13.08 294\\ 13.21 300\\ 14.08 292\\ 13.95 294\\ 14.41 292\\ 14.88 294\\ 15.22 297\\ 15.95 292\\ 8.26 289\\ 8.53 300\\ 8.43 277\\ 9.5 286\\ 9.73 286\\ 10.07 276\\ 10.8 281\\ 11.14 291\\ 11.54 283\\ 11.83 287\\ 11.87 275\\ 12.34 281\\ 12.54 282\\ 13.34 283\\ 13.95 272\\ 14.15 267\\ 13.75 265\\ 14.75 281\\ 14.82 278\\ 15.82 272\\ 15.95 275\\ 9.26 264\\ 9.4 260\\ 9.93 269\\ 10.33 265\\ 10.27 257\\ 10.6 254\\ 10.71 241\\ 11.2 258\\ 11.87 261\\ 12.34 268\\ 12.5 250\\ 12.41 241\\ 13.08 267\\ 14.62 264\\ 14.95 256\\ 15.82 254\\ 16.06 259\\ 16.02 229\\ 8.39 250\\ 8.46 235\\ 9.77 229\\ 9.83 210\\ 11.43 210\\ 12 198\\ 14.21 217\\ 14.38 208\\ 9.6 180\\ 14.68 226\\ 14.64 169\\ 14.35 152\\ 14.28 137\\ 12.05 161\\ 12.05 138\\ 11.8 144\\ 11.77 123\\ 11.71 107\\ 10.07 133\\ 13.34 114\\ 12.67 105\\ 14.21 102\\ 9.37 100\\ 9.13 90\\ 9.26 89\\ 8.57 79\\ 15.48 80\\ 15.82 89\\ 11.91 75\\
7.95 62\\ 8 40\\ 8.05 25\\ 8.1 52\\ 8.15 70\\ 8.2 35\\ 8.25 15\\ 8.3 55\\ 8.35 42\\ 8.4 28\\ 8.45 65\\ 8.5 48\\ 8.55 18\\ 8.6 72\\ 8.65 38\\ 8.7 58\\ 8.75 30\\ 8.8 45\\ 8.85 12\\ 8.9 66\\ 8.95 50\\ 9 25\\ 9.05 38\\ 9.1 60\\ 9.15 8\\ 9.2 55\\ 9.3 33\\ 9.4 20\\ 9.5 48\\ 9.6 14\\ 9.7 40\\ 9.8 5\\ 9.95 18\\ 10 42\\ 10.05 58\\ 10.1 28\\ 10.15 68\\ 10.2 12\\ 10.25 50\\ 10.3 35\\ 10.4 62\\ 10.45 6\\ 10.5 44\\ 10.55 22\\ 10.6 55\\ 10.7 30\\ 10.75 68\\ 10.8 15\\ 10.85 48\\ 10.95 36\\ 11 60\\ 11.05 8\\ 11.1 25\\ 11.15 52\\ 11.25 40\\ 11.3 66\\ 11.35 18\\ 11.45 46\\ 11.55 30\\ 11.6 58\\ 11.7 12\\ 11.8 62\\ 11.85 40\\ 11.9 22\\ 12 50\\ 12.05 5\\ 12.1 34\\ 12.2 16\\ 12.3 60\\ 12.35 44\\ 12.45 8\\ 12.5 54\\ 12.55 72\\ 12.6 28\\ 12.65 38\\ 12.7 66\\ 12.75 14\\ 12.8 48\\ 12.85 56\\ 12.9 24\\ 13 40\\ 13.05 70\\ 13.1 10\\ 13.15 32\\ 13.2 62\\ 13.3 50\\ 13.35 20\\ 13.4 42\\ 13.45 74\\ 13.5 6\\ 13.55 30\\ 13.65 58\\ 13.7 16\\ 13.75 46\\ 13.8 68\\ 13.85 28\\ 13.95 10\\ 14 50\\ 14.1 36\\ 14.15 60\\ 14.2 22\\ 14.3 44\\ 14.35 4\\ 14.45 30\\ 14.5 55\\ 14.6 14\\ 14.7 40\\ 14.75 62\\ 14.8 24\\ 14.9 48\\ 14.95 8\\ 15.05 58\\ 15.15 34\\ 15.25 18\\ 15.3 66\\ 15.4 44\\ 15.45 6\\ 15.5 28\\ 15.6 54\\ 15.65 72\\ 15.75 38\\ 15.8 16\\ 15.85 50\\ 15.95 60\\
16.15 342\\ 16.08 331\\ 16.15 322\\ 16.06 308\\ 16.22 294\\ 16.02 292\\ 15.98 228\\ 16.06 259\\ 15.95 269\\ 17.15 352\\ 17.82 354\\ 19.16 356\\ 19.76 357\\ 20.16 353\\ 21.73 356\\ 17.69 345\\ 17.29 331\\ 18.06 331\\ 18.22 314\\ 17.56 342\\ 18.29 272\\ 18.43 281\\ 18.43 256\\ 17.42 281\\ 16.95 286\\ 17.02 272\\ 17.42 261\\ 17.53 254\\ 17.89 267\\ 18.2 256\\ 18.09 294\\ 18.83 292\\ 19.36 294\\ 19.9 298\\ 20.5 278\\ 20.9 278\\ 20.87 256\\ 19.7 260\\ 20.3 261\\ 19.46 253\\ 19.5 241\\ 19.1 243\\ 20.43 244\\ 20.37 239\\ 21.57 269\\ 21.73 276\\ 21.57 265\\ 21.34 252\\ 21.64 232\\ 21.97 233\\ 21.37 229\\ 18.02 229\\ 16.99 231\\ 17.09 228\\ 17.49 223\\ 18.02 208\\ 19.03 221\\ 19.32 222\\ 19.5 209\\ 18.96 200\\ 19.32 197\\ 20.37 207\\ 19.7 189\\ 20.5 192\\ 21.17 212\\ 21.44 200\\ 21.66 197\\ 21.34 192\\ 21.3 185\\ 17.56 199\\ 17.35 168\\ 17.4 165\\ 17.82 184\\ 18.13 183\\ 18.36 183\\ 18.56 174\\ 18.47 167\\ 18.4 161\\ 19.1 171\\ 19.54 175\\ 20.03 180\\ 20.03 169\\ 20.57 175\\ 20.94 177\\ 21.7 175\\ 22.04 167\\ 19.96 157\\ 19.23 150\\ 19.3 143\\ 19.5 137\\ 19.16 136\\ 18.79 139\\ 19.3 122\\ 19.96 127\\ 17.15 155\\ 21.44 144\\ 21.37 136\\ 21.7 140\\ 22.1 133\\ 21.77 119\\ 22.24 133\\ 22.64 164\\
16 40\\ 16.05 62\\ 16.1 25\\ 16.2 78\\ 16.25 50\\ 16.3 12\\ 16.4 34\\ 16.45 60\\ 16.55 20\\ 16.6 46\\ 16.7 70\\ 16.8 30\\ 16.85 8\\ 16.95 54\\ 17.05 38\\ 17.1 64\\ 17.2 18\\ 17.3 48\\ 17.35 28\\ 17.45 76\\ 17.5 58\\ 17.6 36\\ 17.7 12\\ 17.8 44\\ 17.85 66\\ 17.95 25\\ 18 8\\ 18.1 50\\ 18.2 34\\ 18.3 14\\ 18.4 60\\ 18.5 42\\ 18.55 24\\ 18.65 5\\ 18.75 68\\ 18.8 36\\ 18.9 52\\ 19 12\\ 19.05 72\\ 19.15 28\\ 19.25 44\\ 19.35 62\\ 19.45 18\\ 19.55 36\\ 19.65 56\\ 19.75 22\\ 19.85 70\\ 19.95 34\\ 20.05 10\\ 20.15 48\\ 20.25 64\\ 20.35 26\\ 20.45 4\\ 20.55 42\\ 20.65 12\\ 20.75 10\\ 20.85 78\\ 20.9 60\\ 21 44\\ 21.05 30\\ 21.1 70\\ 21.2 52\\ 21.3 36\\ 21.35 62\\ 21.45 84\\ 21.5 28\\ 21.6 16\\ 21.7 48\\ 21.8 72\\ 21.9 58\\ 22 32\\ 22.1 44\\ 22.15 66\\ 22.2 82\\ 22.3 54\\ 22.35 20\\ 22.4 38\\ 22.5 70\\ 22.55 46\\ 22.6 60\\ 22.7 76\\ 22.75 30\\ 22.8 52\\ 22.85 42\\ 22.95 64\\ 23 22\\ 23.05 36\\ 23.15 56\\ 23.2 70\\ 23.25 44\\ 23.3 28\\ 23.4 60\\ 23.45 78\\ 23.5 38\\ 23.55 50\\ 23.6 16\\ 23.7 66\\ 23.75 32\\ 23.8 46\\ 23.85 72\\ 23.9 24\\ 23.95 58\\ 23.98 40\\
.03 18\\ .07 51\\ .12 9\\ .17 66\\ .22 37\\ .27 60\\ .33 12\\ .37 49\\ .43 27\\ .46 63\\ .52 40\\ .57 7\\ .62 56\\ .67 31\\ .73 15\\ .78 46\\ .85 3\\ .92 28\\ .97 52\\ 1.06 37\\ 1.17 62\\ 1.22 22\\ 1.33 47\\ 1.43 10\\ 1.52 72\\ 1.62 33\\ 1.73 20\\ 1.77 56\\ 2.03 29\\ 2.13 15\\ 2.27 60\\ 2.45 36\\ 2.55 68\\ 3.25 6\\ 3.9 12\\
5.12 70\\ 5.27 42\\ 5.42 66\\ 5.58 30\\ 5.68 14\\ 5.73 52\\ 5.83 83\\ 5.92 38\\ 5.98 62\\ 6.08 12\\ 6.12 56\\ 6.18 88\\ 6.23 33\\ 6.28 72\\ 6.33 48\\ 6.42 22\\ 6.47 60\\ 6.52 80\\ 6.58 42\\ 6.62 5\\ 6.68 34\\ 6.73 66\\ 6.78 18\\ 6.83 52\\ 6.88 92\\ 6.93 26\\ 6.98 58\\ 7.03 12\\ 7.08 44\\ 7.13 74\\ 7.18 35\\ 7.23 8\\ 7.28 60\\ 7.33 20\\ 7.38 84\\ 7.43 48\\ 7.48 28\\ 7.53 66\\ 7.58 10\\ 7.63 52\\ 7.68 76\\ 7.73 38\\ 7.78 24\\ 7.83 56\\ 7.88 5\\ 7.93 30\\
22.02 50\\ 22.08 24\\ 22.12 58\\ 22.18 36\\ 22.23 74\\ 22.28 42\\ 22.33 62\\ 22.38 26\\ 22.43 52\\ 22.48 34\\ 22.52 80\\ 22.58 22\\ 22.63 44\\ 22.68 56\\ 22.73 38\\ 22.78 68\\ 22.83 26\\ 22.88 48\\ 22.92 72\\ 22.98 34\\ 23.03 54\\ 23.08 42\\ 23.12 62\\ 23.18 30\\ 23.22 50\\ 23.28 66\\ 23.33 38\\ 23.38 18\\ 23.42 48\\ 23.48 58\\ 23.53 32\\ 23.58 72\\ 23.62 44\\ 23.68 28\\ 23.72 56\\ 23.78 36\\ 23.82 62\\ 23.88 48\\ 23.92 30\\ 23.97 68\\
18.08 72\\ 18.27 55\\ 18.62 40\\ 18.93 30\\ 19.12 58\\ 19.38 8\\ 19.62 14\\ 19.88 48\\ 20.22 40\\ 20.42 60\\ 20.62 30\\ 20.88 44\\ 21.12 10\\ 21.28 80\\ 21.42 26\\ 21.53 60\\ 21.62 44\\ 21.72 12\\ 21.83 50\\ 21.93 36\\
10.22 30\\ 10.48 14\\ 10.72 48\\ 11.02 20\\ 11.23 60\\ 11.47 8\\ 11.72 40\\ 12.02 62\\ 12.27 26\\ 12.52 12\\ 12.77 52\\ 13.03 4\\ 13.27 30\\ 13.52 62\\ 13.77 20\\ 14.02 8\\ 14.27 58\\ 14.52 20\\ 14.77 44\\ 15.02 30\\ 15.27 62\\ 15.52 12\\ 15.77 24\\ 16.03 60\\ 16.27 34\\ 16.52 70\\ 16.77 16\\ 16.97 28\\ 17.22 66\\ 17.47 24\\ 17.72 50\\ 17.92 4\\
}\dirdata

\newcommand{\stripes}[3][.7bp]{\addplot[draw=none,mark=none,forget plot,error bars/.cd,y dir=plus,y explicit,error mark=none,error bar style={line width=#1,draw=#2}] table[x=t,y=lo,y error expr=\thisrow{hi}-\thisrow{lo}] {#3};}

\pgfplotsset{
  colormap={zhmap}{rgb255(0)=(220,220,220) rgb255(18)=(0,0,255) rgb255(28)=(0,130,130) rgb255(34)=(0,255,0) rgb255(40)=(190,240,0) rgb255(43)=(255,255,0) rgb255(50)=(255,150,0) rgb255(60)=(255,0,0) rgb255(64)=(210,0,40) rgb255(70)=(128,0,128)},
  colormap={velmap}{rgb255(0)=(59,76,192) rgb255(2)=(141,176,254) rgb255(4)=(221,221,221) rgb255(6)=(244,152,122) rgb255(8)=(180,4,38)},
  panel/.style={
    scale only axis,width=#1,height=108bp,
    tick align=outside,major tick length=2.45bp,minor tick length=1.4bp,
    every tick/.style={black,line width=.45bp},
    axis line style={line width=.6bp},
    xtick pos=bottom,ytick pos=left,
    tick label style={font=\ftick},label style={font=\flabel},
    yticklabel style={xshift=1bp},
    title style={font=\ftitle,at={(0.5,1)},anchor=south,yshift=-5.7bp},
    /pgf/number format/assume math mode=true,/pgf/number format/1000 sep={},
    scaled ticks=false,
    grid=major,grid style={gridc,dash pattern=on 2.4bp off 1bp,line width=.45bp},
    legend style={font=\ftick,draw=gridc,fill=white,fill opacity=.8,draw opacity=1,text opacity=1,rounded corners=1.5bp,inner xsep=2.2bp,inner ysep=2.5bp,cells={anchor=west}},
    legend cell align=left,
    legend image code/.code={\draw[##1] (0bp,0bp) -- (18bp,0bp);\path[draw=none] (20bp,0bp);},
  },
  timeaxis/.style={
    xmin=0,xmax=24,xtick={0,3,...,21},minor x tick num=2,
  },
  timelabels/.style={xticklabels={00:00,03:00,06:00,09:00,12:00,15:00,18:00,21:00},xlabel={Time [UTC]},xlabel style={yshift=2bp}},
  nolabels/.style={xticklabels={}},
  cbar/.style={
    every colorbar/.append style={
      scale only axis,height=98.35bp,
      tick align=outside,major tick length=2.45bp,
      every tick/.style={black,line width=.45bp},
      axis line style={line width=.4bp},
      tick label style={font=\ftick},label style={font=\ftick},
      yticklabel style={xshift=0bp},
    },
  },
}

\begin{document}
\begin{tikzpicture}
\path[use as bounding box] (0bp,0bp) rectangle (800bp,500bp);

% title
\node[font=\fontsize{11.1}{13}\selectfont] at (400.3bp,485.2bp) {Measurement site: SIRTA (48.717N, 2.209E, 156m)};
\node[font=\fontsize{11.1}{13}\selectfont] at (400.3bp,474.3bp) {21-07-2026};

% reflectivity
\begin{axis}[panel=298.75bp,timeaxis,nolabels,name=zh,at={(45.5bp,331.5bp)},anchor=south west,
  ymin=0,ymax=2500,ytick={0,500,...,2500},minor y tick num=4,
  title={DCR - BASTA},ylabel={Altitude [m AGL]},
  ylabel style={at={(axis description cs:-0.114,0.5)},anchor=center},
  cbar,colorbar,colormap name=zhmap,point meta min=-50,point meta max=20,
  colorbar style={at={(parent axis.north east)},anchor=north west,xshift=1bp,yshift=-4.9bp,width=9.25bp,
    ytick={-50,-30,-10,10},yticklabels={−50,−30,−10,10},
    ylabel={Zh [\textit{dBZ}]},ylabel style={at={(axis description cs:4.12,0.5)},anchor=center}},
]
\stripes{black!14}{\zhgrey}
\stripes{zpale}{\zhpale}
\stripes[.55bp]{zmid}{\zhmid}
\stripes[.45bp]{zstrong}{\zhstrong}
\end{axis}
\fill[black!14,draw=black,line width=.4bp] (353.75bp,336.65bp) -- (363bp,336.65bp) -- (358.4bp,331.75bp) -- cycle;
\fill[zpurple,draw=black,line width=.4bp] (353.75bp,435bp) -- (363bp,435bp) -- (358.4bp,440bp) -- cycle;

% velocity
\begin{axis}[panel=298bp,timeaxis,nolabels,name=vel,at={(443.75bp,331.5bp)},anchor=south west,
  ymin=0,ymax=2500,ytick={0,500,...,2500},minor y tick num=4,
  title={DCR - BASTA},ylabel={Altitude [m AGL]},
  ylabel style={at={(axis description cs:-0.114,0.5)},anchor=center},
  cbar,colorbar,colormap name=velmap,point meta min=-4,point meta max=4,
  colorbar style={at={(parent axis.north east)},anchor=north west,xshift=1.25bp,yshift=-4.9bp,width=9bp,
    ytick={-4,-2,0,2,4},yticklabels={−4,−2,0,2,4},
    ylabel={Velocity [\textit{m.\,s}\textsuperscript{−1}]},ylabel style={at={(axis description cs:3.97,0.5)},anchor=center}},
]
\stripes{black!13}{\vgrey}
\stripes{vlorc}{\vlor}
\stripes{vlbluec}{\vlblue}
\stripes[.55bp]{vorc}{\vor}
\stripes[.5bp]{vbluec}{\vblue}
\stripes[.5bp]{vdarkc}{\vdark}
\stripes[.5bp]{vredc}{\vred}
\end{axis}
\fill[vdarkc,draw=black,line width=.4bp] (751.5bp,336.65bp) -- (760.5bp,336.65bp) -- (756bp,331.75bp) -- cycle;
\fill[vredc,draw=black,line width=.4bp] (751.5bp,435bp) -- (760.5bp,435bp) -- (756bp,440bp) -- cycle;

% temperature and humidity
\begin{axis}[panel=298.75bp,timeaxis,nolabels,at={(45.5bp,183.35bp)},anchor=south west,
  ymin=11.78,ymax=26.29,ytick={12,14,...,26},minor y tick num=1,
  title={weather station},ylabel={Temperature [\textit{°C}]},
  ylabel style={at={(axis description cs:-0.115,0.5)},anchor=center},
  legend style={at={(0.016,0.96)},anchor=north west},
]
\addplot[tacol,line width=1.5bp,line join=round] table[x=t,y=v] {\tadata};
\addlegendentry{ta}
\end{axis}
\begin{axis}[panel=298.75bp,timeaxis,at={(45.5bp,183.35bp)},anchor=south west,
  axis x line=none,axis y line*=right,grid=none,
  ymin=25,ymax=81.3,ytick={25,30,...,80},minor y tick num=4,ytick pos=right,
  yticklabel style={xshift=-.5bp},
  ylabel={Relative Humidity [\%]},
  ylabel style={at={(axis description cs:1.08,0.5)},anchor=center},
  legend style={at={(0.97,0.923)},anchor=north east},
]
\addplot[rhcol,line width=1.5bp,line join=round] table[x=t,y=v] {\rhdata};
\addlegendentry{rh}
\end{axis}

% wind
\begin{axis}[panel=298bp,timeaxis,timelabels,at={(443.75bp,183.35bp)},anchor=south west,
  ymin=-0.166,ymax=3.81,ytick={0,2},minor y tick num=1,
  title={weather station},ylabel={Wind Speed [\textit{m.\,s}\textsuperscript{−1}]},
  ylabel style={at={(axis description cs:-0.121,0.5)},anchor=center},
  legend style={at={(0.0135,0.96)},anchor=north west},
]
\addplot[red,line width=1.6bp,line join=round] table[x=t,y=v] {\winddata};
\addlegendentry{Wind Speed}
\end{axis}
\begin{axis}[panel=298bp,timeaxis,at={(443.75bp,183.35bp)},anchor=south west,
  axis x line=none,axis y line*=right,grid=none,
  ymin=0,ymax=360,ytick={0,60,...,360},minor y tick num=2,ytick pos=right,
  yticklabel style={xshift=-1.5bp},
  ylabel={Wind Direction [°]},
  ylabel style={at={(axis description cs:1.098,0.5)},anchor=center},
  legend style={at={(0.985,0.964)},anchor=north east},
]
\addplot[only marks,mark=*,mark size=1.4bp,dirc,mark options={draw=dirc,fill=dirc},legend image code/.code={\path[draw=none] (0bp,0bp) -- (24bp,0bp);}] table[x=t,y=d] {\dirdata};
\addlegendentry{Wind Direction}
\end{axis}

% rainfall
\begin{axis}[panel=298.75bp,timeaxis,timelabels,at={(45.5bp,34.35bp)},anchor=south west,
  ymin=-0.032,ymax=0.616,ytick={0},
  title={Disdrometer and Weather station},ylabel={Cumulative rainfall [\textit{mm}]},
  ylabel style={at={(axis description cs:-0.114,0.5)},anchor=center},
  legend style={at={(0.984,0.323)},anchor=north east},
]
\addplot[thies,line width=1.5bp,line join=miter] coordinates {(0,0) (11.75,0) (11.75,0.395) (12.1,0.395) (12.1,0.425) (13.45,0.425) (13.45,0.487) (14.3,0.487) (14.3,0.513) (20.1,0.513) (20.1,0.59) (24,0.59)};
\addlegendentry{Thies Clima LNM}
\addplot[wscol,line width=1.5bp,opacity=.85] coordinates {(0,0) (24,0)};
\addlegendentry{Weather Station}
\end{axis}

% fall speed
\begin{axis}[panel=298bp,at={(443.75bp,34.35bp)},anchor=south west,
  xmin=0,xmax=5,xtick={0,...,5},minor x tick num=1,
  ymin=0,ymax=10,ytick={0,2,...,10},minor y tick num=1,
  title={Relationship disdrometer fall speed / drop size},
  xlabel={Diameter [\textit{mm}]},xlabel style={yshift=2bp},
  ylabel={Fall speed [\textit{m.\,s}\textsuperscript{−1}]},
  ylabel style={at={(axis description cs:-0.121,0.5)},anchor=center},
]
\node[font=\fontsize{9.76}{11.5}\selectfont\itshape,anchor=base west,inner sep=0pt] at (axis cs:2,4) {No fit};
\end{axis}

% logo
\definecolor{lg1}{RGB}{105,196,192}\definecolor{lg2}{RGB}{72,165,170}\definecolor{lg3}{RGB}{44,140,155}\definecolor{lg4}{RGB}{30,120,140}\definecolor{lg5}{RGB}{22,95,120}\definecolor{lg6}{RGB}{18,70,100}\definecolor{lg7}{RGB}{14,45,80}\definecolor{lg8}{RGB}{12,25,65}
\foreach \a/\b/\c/\w in {137.7/128/lg1/.6,128/118/lg2/.9,118/108/lg3/1.2,108/98/lg4/1.5,98/88/lg5/1.7,88/78/lg6/1.7,78/68/lg7/1.6,68/58/lg8/1.3,58/50/navy/1,50/42.3/navy/.7}{
  \draw[\c,line width=\w bp] ([shift={(\a:48.9bp)}]689.2bp,442.5bp) arc[start angle=\a,end angle=\b,radius=48.9bp];
}
\shade[top color=white,bottom color=navy,middle color=navy!70] (710.6bp,499bp) rectangle (712.6bp,474bp);
\foreach \l/\x in {A/654,C/672.7,T/687.5,R/703,I/711.6,S/722.7}{
  \node[font=\logofont\fontsize{14.7}{16}\selectfont,text=navy,anchor=base,inner sep=0pt] at (\x bp,461bp) {\l};
}
\node[font=\logofont\fontsize{9.2}{11}\selectfont,text=navy,anchor=base,inner sep=0pt] at (688.5bp,450.5bp) {CCRES};
\end{tikzpicture}
\end{document}
